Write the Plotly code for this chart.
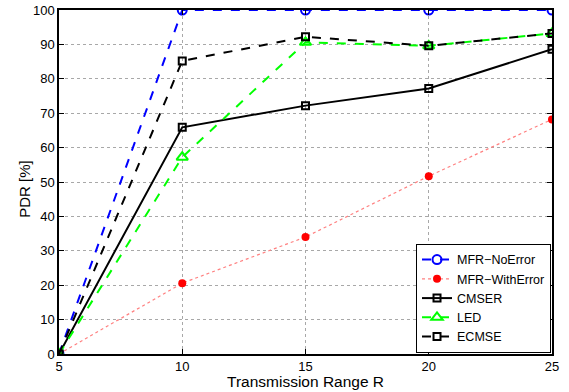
import plotly.graph_objects as go

x_range = [5, 10, 15, 20, 25]
mfr_noerror = [0, 100, 100, 100, 100]
mfr_witherror = [0, 20.6, 34.0, 51.7, 68.2]
cmser = [0, 65.9, 72.2, 77.2, 88.6]
led = [0, 57.2, 90.6, 89.6, 93.2]
ecmse = [0, 85.2, 92.2, 89.6, 93.2]

fig = go.Figure()
fig.add_trace(go.Scatter(x=x_range, y=mfr_noerror, name="MFR\u2212NoError", mode="lines+markers",
                         line=dict(color="#0000ff", width=2, dash="dash"),
                         marker=dict(symbol="circle-open", size=9, color="#0000ff", line=dict(width=2))))
fig.add_trace(go.Scatter(x=x_range, y=mfr_witherror, name="MFR\u2212WithError", mode="lines+markers",
                         line=dict(color="#ff8080", width=1.2, dash="dot"),
                         marker=dict(symbol="circle", size=8, color="#ff0000")))
fig.add_trace(go.Scatter(x=x_range, y=cmser, name="CMSER", mode="lines+markers",
                         line=dict(color="black", width=2),
                         marker=dict(symbol="square-open", size=7, color="black", line=dict(width=2))))
fig.add_trace(go.Scatter(x=x_range, y=led, name="LED", mode="lines+markers",
                         line=dict(color="#00ff00", width=2, dash="dash"),
                         marker=dict(symbol="triangle-up-open", size=10, color="#00ff00", line=dict(width=2))))
fig.add_trace(go.Scatter(x=x_range, y=ecmse, name="ECMSE", mode="lines+markers",
                         line=dict(color="black", width=2, dash="dash"),
                         marker=dict(symbol="square-open", size=7, color="black", line=dict(width=2))))

axis_common = dict(showline=True, linecolor="black", linewidth=1.5, mirror="ticks",
                   ticks="inside", ticklen=5, tickcolor="black", automargin=False,
                   showgrid=True, gridcolor="#a8a8a8", griddash="dot", gridwidth=1,
                   zeroline=False, tickfont=dict(family="Liberation Sans, Arial", size=13, color="black"))

fig.update_layout(
    width=569, height=392,
    margin=dict(l=59, r=17, t=10, b=38),
    plot_bgcolor="white", paper_bgcolor="white",
    font=dict(family="Liberation Sans, Arial", color="black"),
    xaxis=dict(range=[5, 25], tickvals=[5, 10, 15, 20, 25], **axis_common),
    yaxis=dict(range=[0, 100], tickvals=list(range(0, 101, 10)), **axis_common),
    legend=dict(x=0.998, y=0.003, xanchor="right", yanchor="bottom",
                bgcolor="white", bordercolor="black", borderwidth=1,
                font=dict(size=12.5), itemwidth=30, tracegroupgap=0),
    showlegend=True,
    annotations=[
        dict(text="Transmission Range R", xref="paper", yref="paper", x=0.5, y=-0.08,
             xanchor="center", yanchor="middle", showarrow=False, font=dict(size=15.5)),
        dict(text="PDR [%]", xref="paper", yref="paper", x=-0.069, y=0.48,
             xanchor="center", yanchor="middle", textangle=-90, showarrow=False, font=dict(size=15)),
    ],
)

fig.write_html("out.html")
